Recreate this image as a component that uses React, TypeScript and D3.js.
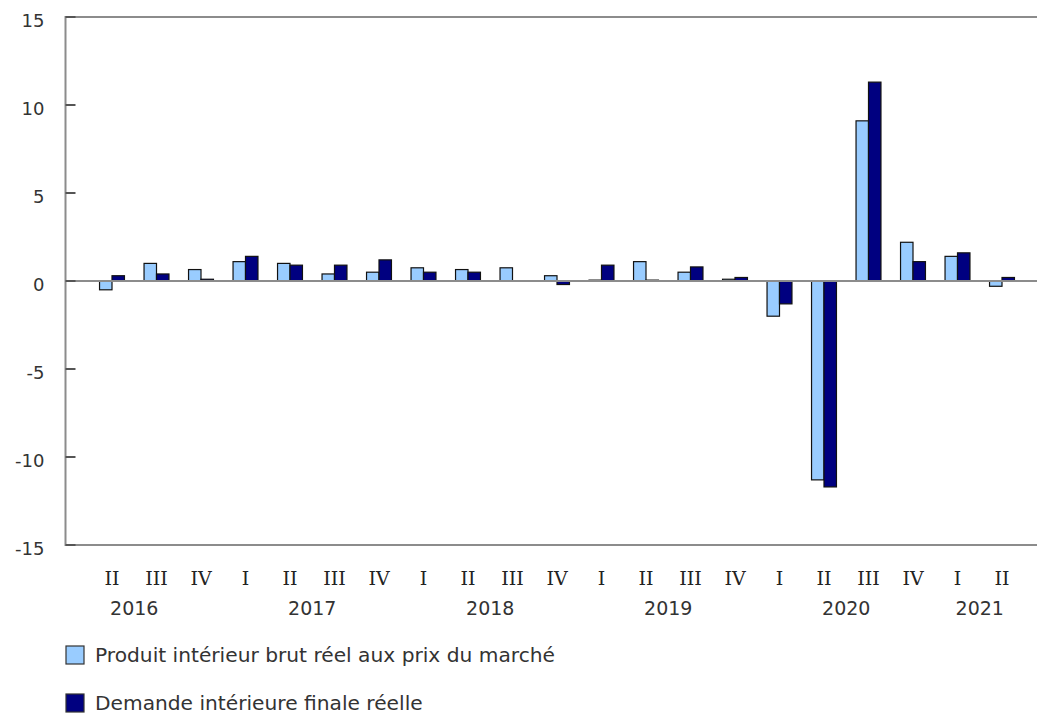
import React, { useRef, useEffect } from "react";
import * as d3 from "d3";

// Quarter labels and years (2016 Q2 to 2021 Q2)
const quarters = [
  "II", "III", "IV",
  "I", "II", "III", "IV",
  "I", "II", "III", "IV",
  "I", "II", "III", "IV",
  "I", "II", "III", "IV",
  "I", "II",
];
const years = [
  "2016", "2016", "2016",
  "2017", "2017", "2017", "2017",
  "2018", "2018", "2018", "2018",
  "2019", "2019", "2019", "2019",
  "2020", "2020", "2020", "2020",
  "2021", "2021",
];

const gdp = [
  -0.5, 1.0, 0.65,
  1.1, 1.0, 0.4, 0.5,
  0.75, 0.65, 0.75, 0.3,
  0.05, 1.1, 0.5, 0.1,
  -2.0, -11.3, 9.1, 2.2,
  1.4, -0.3,
];
const demand = [
  0.3, 0.4, 0.1,
  1.4, 0.9, 0.9, 1.2,
  0.5, 0.5, 0.0, -0.2,
  0.9, 0.05, 0.8, 0.2,
  -1.3, -11.7, 11.3, 1.1,
  1.6, 0.2,
];

const seriesNames = [
  "Produit intérieur brut réel aux prix du marché",
  "Demande intérieure finale réelle",
];
const seriesColors = ["#99ccff", "#000080"];
const yTicks = [-15, -10, -5, 0, 5, 10, 15];

const width = 1037;
const height = 716;

const App: React.FC = () => {
  const svgRef = useRef<SVGSVGElement | null>(null);

  useEffect(() => {
    const svg = d3.select(svgRef.current);
    svg.selectAll("*").remove();

    const plotLeft = 65.5;
    const plotRight = width;
    const keys = quarters.map((q, i) => `${years[i]}-${q}`);

    const x = d3
      .scaleBand<string>()
      .domain(keys)
      .range([89.75, 1024.25])
      .paddingInner(0.44)
      .paddingOuter(0.22);

    const xInner = d3
      .scaleBand<number>()
      .domain([0, 1])
      .range([0, x.bandwidth()]);

    const y = d3.scaleLinear().domain([-15, 15]).range([545, 17]);

    const axisColor = "#8c8c8c";
    const font = "'DejaVu Sans', Verdana, sans-serif";

    // Frame lines: top and bottom
    svg.append("line")
      .attr("x1", plotLeft).attr("x2", plotRight)
      .attr("y1", y(15)).attr("y2", y(15))
      .attr("stroke", axisColor).attr("stroke-width", 2);
    svg.append("line")
      .attr("x1", plotLeft).attr("x2", plotRight)
      .attr("y1", y(-15)).attr("y2", y(-15))
      .attr("stroke", axisColor).attr("stroke-width", 2);

    // Bars
    const data = [gdp, demand];
    data.forEach((vals, s) => {
      svg.append("g")
        .selectAll("rect")
        .data(vals)
        .enter()
        .append("rect")
        .attr("x", (_, i) => x(keys[i])! + xInner(s)!)
        .attr("y", (d) => y(Math.max(0, d)))
        .attr("width", xInner.bandwidth())
        .attr("height", (d) => Math.abs(y(d) - y(0)))
        .attr("fill", seriesColors[s])
        .attr("stroke", "#111")
        .attr("stroke-width", 1.2);
    });

    // Zero line
    svg.append("line")
      .attr("x1", plotLeft).attr("x2", plotRight)
      .attr("y1", y(0)).attr("y2", y(0))
      .attr("stroke", axisColor).attr("stroke-width", 2);

    // Y axis
    const yAxis = svg.append("g").attr("transform", `translate(${plotLeft},0)`);
    yAxis.append("line")
      .attr("y1", y(15) - 1).attr("y2", y(-15) + 1)
      .attr("stroke", axisColor).attr("stroke-width", 2);
    yTicks.forEach((t) => {
      yAxis.append("line")
        .attr("x1", 0).attr("x2", 10)
        .attr("y1", y(t)).attr("y2", y(t))
        .attr("stroke", "#555").attr("stroke-width", 2);
      yAxis.append("text")
        .attr("x", -21)
        .attr("y", y(t) + 10)
        .attr("text-anchor", "end")
        .style("font-family", font)
        .style("font-size", "18px")
        .attr("fill", "#333")
        .text(t);
    });

    // Quarter labels
    keys.forEach((k, i) => {
      svg.append("text")
        .attr("x", x(k)! + x.bandwidth() / 2)
        .attr("y", 585)
        .attr("text-anchor", "middle")
        .style("font-family", "'DejaVu Serif', serif")
        .style("font-size", "19px")
        .attr("fill", "#222")
        .text(quarters[i]);
    });

    // Year labels centred under their quarters (2016 counts its missing Q1)
    const uniqueYears = Array.from(new Set(years));
    uniqueYears.forEach((yr) => {
      const idx = years.map((v, i) => (v === yr ? i : -1)).filter((i) => i >= 0);
      const centers = idx.map((i) => x(keys[i])! + x.bandwidth() / 2);
      if (yr === "2016") centers.unshift(centers[0] - x.step());
      svg.append("text")
        .attr("x", d3.mean(centers)!)
        .attr("y", 615)
        .attr("text-anchor", "middle")
        .style("font-family", font)
        .style("font-size", "19px")
        .attr("fill", "#333")
        .text(yr);
    });

    // Legend
    seriesNames.forEach((name, i) => {
      const ly = 646 + i * 48;
      svg.append("rect")
        .attr("x", 66).attr("y", ly)
        .attr("width", 18).attr("height", 18)
        .attr("fill", seriesColors[i])
        .attr("stroke", "#333").attr("stroke-width", 1.2);
      svg.append("text")
        .attr("x", 95).attr("y", ly + 16)
        .style("font-family", font)
        .style("font-size", "20.2px")
        .attr("fill", "#333")
        .text(name);
    });
  }, []);

  return (
    <div style={{ position: "absolute", left: 0, top: 0 }}>
      <svg ref={svgRef} width={width} height={height} style={{ display: "block", background: "#fff" }}></svg>
    </div>
  );
};

export default App;
